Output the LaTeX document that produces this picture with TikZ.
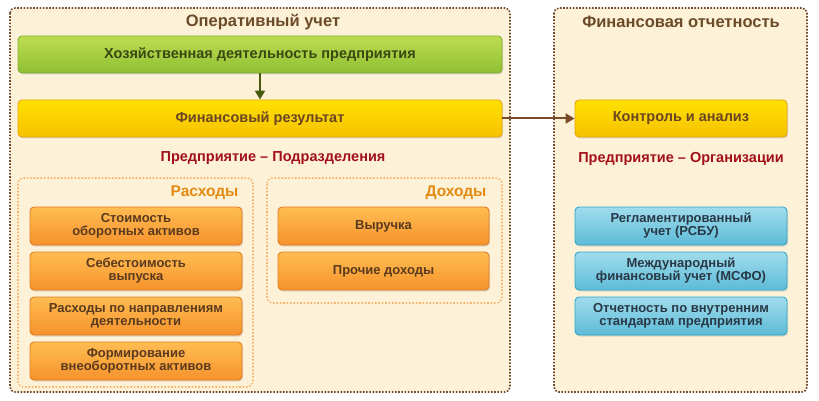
\documentclass[tikz,border=0pt]{standalone}
\usepackage{fontspec}
\setmainfont{Liberation Sans}
\usetikzlibrary{shadows,arrows.meta}

\definecolor{frameBrown}{HTML}{6E4A2A}
\definecolor{frameFill}{HTML}{FDF2D8}
\definecolor{titleBrown}{HTML}{6B4A28}
\definecolor{sectRed}{HTML}{A3101A}
\definecolor{groupOrange}{HTML}{F8B56E}
\definecolor{labelOrange}{HTML}{E28A12}
\definecolor{greenTop}{HTML}{BEDC52}
\definecolor{greenBot}{HTML}{8FC033}
\definecolor{greenLine}{HTML}{7EAD34}
\definecolor{greenText}{HTML}{3A4812}
\definecolor{goldTop}{HTML}{FFE100}
\definecolor{goldBot}{HTML}{F6C100}
\definecolor{goldLine}{HTML}{E3A50C}
\definecolor{goldText}{HTML}{6B4522}
\definecolor{orTop}{HTML}{FFBD52}
\definecolor{orBot}{HTML}{F6922C}
\definecolor{orLine}{HTML}{E07C22}
\definecolor{orText}{HTML}{5A3A1E}
\definecolor{blueTop}{HTML}{A0DCEC}
\definecolor{blueBot}{HTML}{5DBBD7}
\definecolor{blueLine}{HTML}{2EA6CB}
\definecolor{blueText}{HTML}{283846}
\definecolor{arrowGreen}{HTML}{485A10}
\definecolor{arrowBrown}{HTML}{7A4A2A}

\tikzset{
  frame/.style={draw=frameBrown, line width=1.6pt, dash pattern=on 1.6pt off 1.6pt,
    fill=frameFill, rounded corners=5pt},
  group/.style={draw=groupOrange, line width=1.6pt, dash pattern=on 1.6pt off 1.8pt,
    rounded corners=6pt},
  box/.style={rounded corners=4pt, line width=0.9pt, align=center, inner sep=0pt,
    minimum height=38pt, font=\bfseries\fontsize{13}{13}\selectfont,
    drop shadow={opacity=0.25, shadow xshift=1pt, shadow yshift=-1.5pt}},
  greenbox/.style={box, top color=greenTop, bottom color=greenBot, draw=greenLine,
    text=greenText, minimum width=484pt, minimum height=37pt,
    font=\bfseries\fontsize{14.5}{16}\selectfont},
  goldbox/.style={box, top color=goldTop, bottom color=goldBot, draw=goldLine,
    text=goldText, minimum height=37pt, font=\bfseries\fontsize{14.5}{16}\selectfont},
  orbox/.style={box, top color=orTop, bottom color=orBot, draw=orLine,
    text=orText, minimum width=212pt},
  bluebox/.style={box, top color=blueTop, bottom color=blueBot, draw=blueLine,
    text=blueText, minimum width=212pt},
  frametitle/.style={text=titleBrown, font=\bfseries\fontsize{16.5}{18}\selectfont},
  secttitle/.style={text=sectRed, font=\bfseries\fontsize{14.5}{16}\selectfont},
  grouptitle/.style={text=labelOrange, anchor=east, font=\bfseries\fontsize{15.5}{17}\selectfont},
  flow/.style={line width=2pt, -{Triangle[length=9pt,width=10pt]}}
}

\begin{document}
\begin{tikzpicture}[x=1pt, y=-1pt]
\useasboundingbox (0,0) rectangle (819,401);
%%%% Frames:
\draw[frame] (10,8) rectangle (510,392);
\draw[frame] (554,8) rectangle (807,392);
\node[frametitle] (opTitle) at (263,22) {Оперативный учет};
\node[frametitle] (finTitle) at (681,22) {Финансовая отчетность};
%%%% Top row
\node[greenbox] (econ) at (260,54.5) {Хозяйственная деятельность предприятия};
\node[goldbox, minimum width=484pt] (finres) at (260,118.5) {Финансовый результат};
\node[goldbox, minimum width=212pt] (control) at (681,118.5) {Контроль и анализ};
\draw[flow, draw=arrowGreen, fill=arrowGreen] (econ) -- (finres);
\draw[flow, draw=arrowBrown, fill=arrowBrown] (finres) -- (control);
%%%% Section labels
\node[secttitle] (deptTitle) at (273,158) {Предприятие – Подразделения};
\node[secttitle] (orgTitle) at (681,159) {Предприятие – Организации};
%%%% Expense and income groups
\draw[group] (18,178) rectangle (253,387);
\draw[group] (267,178) rectangle (502,303);
\node[grouptitle] (costTitle) at (242,193) {Расходы};
\node[grouptitle] (incTitle) at (490,193) {Доходы};
%%%% Expenses
\node[orbox] (cost1) at (136,226) {Стоимость\\оборотных активов};
\node[orbox] (cost2) at (136,271) {Себестоимость\\выпуска};
\node[orbox] (cost3) at (136,316) {Расходы по направлениям\\деятельности};
\node[orbox] (cost4) at (136,361) {Формирование\\внеоборотных активов};
%%%% Income
\node[orbox, minimum width=211pt] (inc1) at (383.5,226) {Выручка};
\node[orbox, minimum width=211pt] (inc2) at (383.5,271) {Прочие доходы};
%%%% Reporting
\node[bluebox] (rep1) at (681,226) {Регламентированный\\учет (РСБУ)};
\node[bluebox] (rep2) at (681,271) {Международный\\финансовый учет (МСФО)};
\node[bluebox] (rep3) at (681,316) {Отчетность по внутренним\\стандартам предприятия};
\end{tikzpicture}
\end{document}
